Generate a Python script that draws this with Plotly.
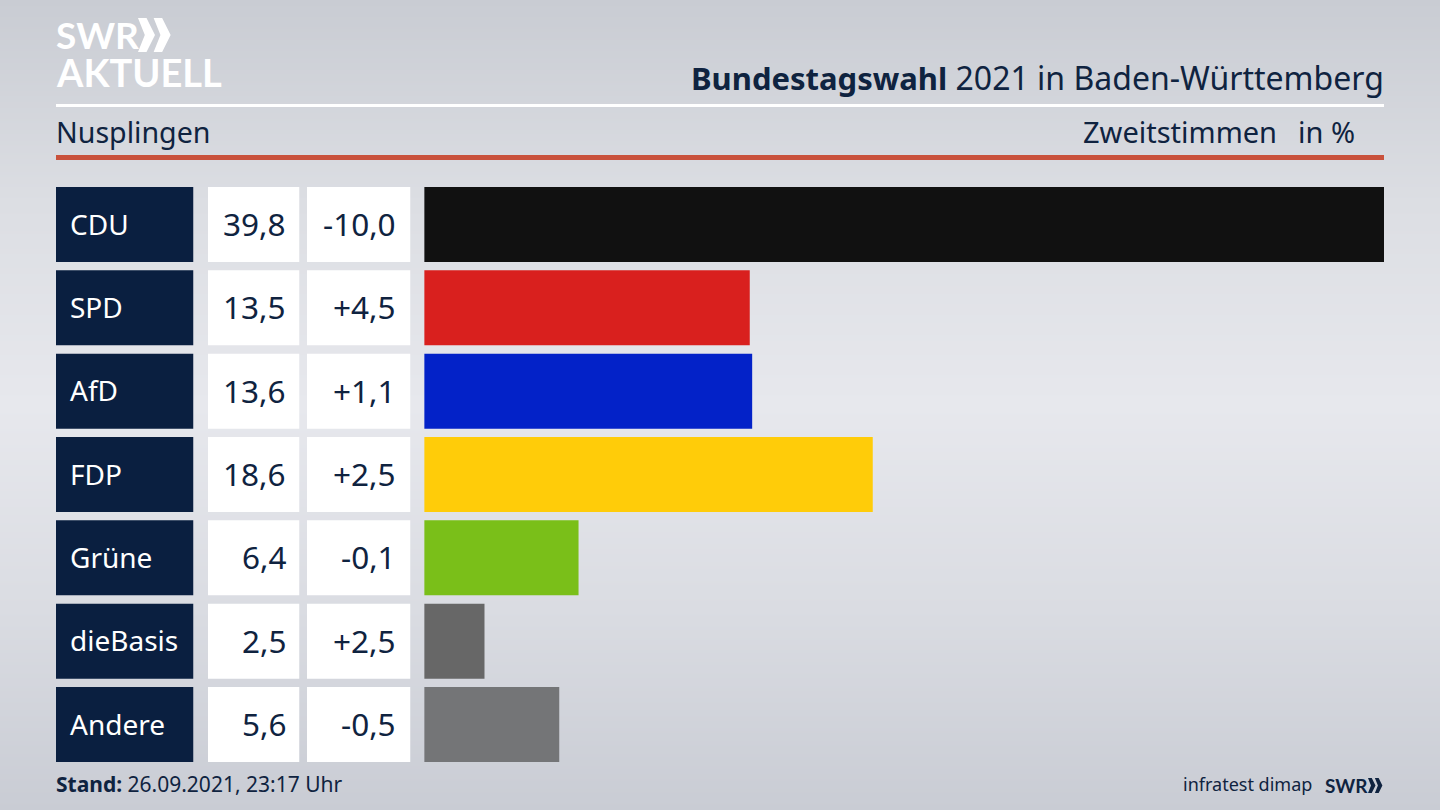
import plotly.graph_objects as go

W = 1440
H = 810

parties = ['CDU', 'SPD', 'AfD', 'FDP', 'Grüne', 'dieBasis', 'Andere']
shares = [39.8, 13.5, 13.6, 18.6, 6.4, 2.5, 5.6]
changes = [-10.0, 4.5, 1.1, 2.5, -0.1, 2.5, -0.5]
bar_colors = ['#111111', '#d9201e', '#0322c8', '#ffcc09', '#7abf19', '#676767', '#747577']

# background shading, top to bottom
bg_stops = [0.0, 0.25, 0.5, 0.75, 1.0]
bg_colors = ['#c9ccd4', '#dadce2', '#e7e8ed', '#dcdee3', '#c9ccd3']

NAVY = '#0a1f40'
TEXT = '#0f2340'
FONT = 'Noto Sans'
LOGO_FONT = 'Lato'


def px_x(x):
    return x / W


def px_y(y):
    return 1 - y / H


def de(value, signed=False):
    fmt = '{:+.1f}' if signed else '{:.1f}'
    return fmt.format(value).replace('.', ',')


def text(x, y, label, size, anchor='left', color=TEXT, family=FONT):
    # annotations pad their box by a couple of pixels, take that back out
    nudge = -2 if anchor == 'left' else 2
    return dict(
        x=px_x(x + nudge), y=px_y(y), xref='paper', yref='paper',
        text=label, showarrow=False,
        xanchor=anchor, yanchor='middle',
        font=dict(family=family, size=size, color=color),
    )


def rule(y, thickness, color):
    return dict(
        type='line', xref='paper', yref='paper',
        x0=px_x(56), x1=px_x(1384), y0=px_y(y), y1=px_y(y),
        line=dict(color=color, width=thickness),
    )


def chevrons(x, y, height, color):
    # two >> marks, as in the SWR logo
    shapes = []
    step = height * 0.46
    for i in range(2):
        x0 = x + i * step
        xs = [x0, x0 + height * 0.25, x0 + height * 0.5, x0 + height * 0.25, x0, x0 + height * 0.2]
        ys = [y, y, y + height / 2, y + height, y + height, y + height / 2]
        path = 'M ' + ' L '.join(f'{px_x(a):.5f},{px_y(b):.5f}' for a, b in zip(xs, ys)) + ' Z'
        shapes.append(dict(type='path', xref='paper', yref='paper', path=path,
                           fillcolor=color, line=dict(width=0)))
    return shapes


fig = go.Figure()

# full-page shading sits on the first axes so it stays under everything
fig.add_trace(go.Heatmap(
    z=[[v, v] for v in bg_stops],
    x=[0, 1], y=bg_stops,
    colorscale=[[s, c] for s, c in zip(bg_stops, bg_colors)],
    zsmooth='best', showscale=False, hoverinfo='skip',
    xaxis='x', yaxis='y',
))

# party, share and change cells are bars on their own column axes
for axis, color in (('x3', NAVY), ('x4', 'white'), ('x5', 'white')):
    fig.add_trace(go.Bar(
        x=[1] * len(parties), y=parties, orientation='h',
        marker=dict(color=color, line=dict(width=0)),
        xaxis=axis, yaxis='y2', showlegend=False, hoverinfo='skip',
    ))

fig.add_trace(go.Bar(
    x=shares, y=parties, orientation='h',
    marker=dict(color=bar_colors, line=dict(width=0)),
    xaxis='x2', yaxis='y2', showlegend=False,
))

title = ('<span style="font-size:31px"><b>Bundestagswahl</b></span>'
         ' 2021 in Baden-Württemberg')

annotations = [
    text(1384, 77, title, 32, 'right'),
    text(56, 131, 'Nusplingen', 28.6),
    text(1277, 131, 'Zweitstimmen', 29, 'right'),
    text(1355, 131, 'in %', 29, 'right'),
    text(56, 784, '<b>Stand:</b> 26.09.2021, 23:17 Uhr', 21),
    text(1312, 784, 'infratest dimap', 18, 'right'),
    text(1325, 785, '<b>SWR</b>', 19, 'left', family=LOGO_FONT),
    text(56, 35, '<b>SWR</b>', 37, 'left', 'white', LOGO_FONT),
    text(56, 72, '<b>AKTUELL</b>', 38, 'left', 'white', LOGO_FONT),
]

for party, share, change in zip(parties, shares, changes):
    annotations += [
        dict(x=px_x(68), y=party, xref='paper', yref='y2', text=party, showarrow=False,
             xanchor='left', yshift=1, font=dict(family=FONT, size=28, color='white')),
        dict(x=px_x(288), y=party, xref='paper', yref='y2', text=de(share), showarrow=False,
             xanchor='right', yshift=1, font=dict(family=FONT, size=31.5, color=TEXT)),
        dict(x=px_x(398), y=party, xref='paper', yref='y2', text=de(change, signed=True), showarrow=False,
             xanchor='right', yshift=1, font=dict(family=FONT, size=31.5, color=TEXT)),
    ]

shapes = [rule(105.5, 3, 'white'), rule(157.5, 5, '#c9513c')]
shapes += chevrons(138, 18, 34, 'white')
shapes += chevrons(1368, 778, 15, TEXT)

hidden = dict(visible=False, fixedrange=True)


def column_axis(left, right, axis_range):
    return dict(hidden, domain=[px_x(left), px_x(right)], range=axis_range, anchor='y2')


fig.update_layout(
    width=W, height=H,
    margin=dict(l=0, r=0, t=0, b=0),
    paper_bgcolor='#dadce2',
    plot_bgcolor='rgba(0,0,0,0)',
    barmode='overlay',
    bargap=0.1,
    showlegend=False,
    xaxis=dict(hidden, domain=[0, 1], range=[0, 1]),
    yaxis=dict(hidden, domain=[0, 1], range=[0, 1]),
    xaxis2=column_axis(424.2, 1384, [0, 39.8]),
    xaxis3=column_axis(56, 193.5, [0, 1]),
    xaxis4=column_axis(208, 299.5, [0, 1]),
    xaxis5=column_axis(307, 410.5, [0, 1]),
    yaxis2=dict(
        hidden, anchor='x2', type='category',
        domain=[px_y(766.17), px_y(182.83)],
        categoryorder='array', categoryarray=parties,
        range=[6.5, -0.5],
    ),
    annotations=annotations,
    shapes=shapes,
)

fig.write_html('out.html', config=dict(displayModeBar=False),
               post_script="document.body.style.margin='0';")
